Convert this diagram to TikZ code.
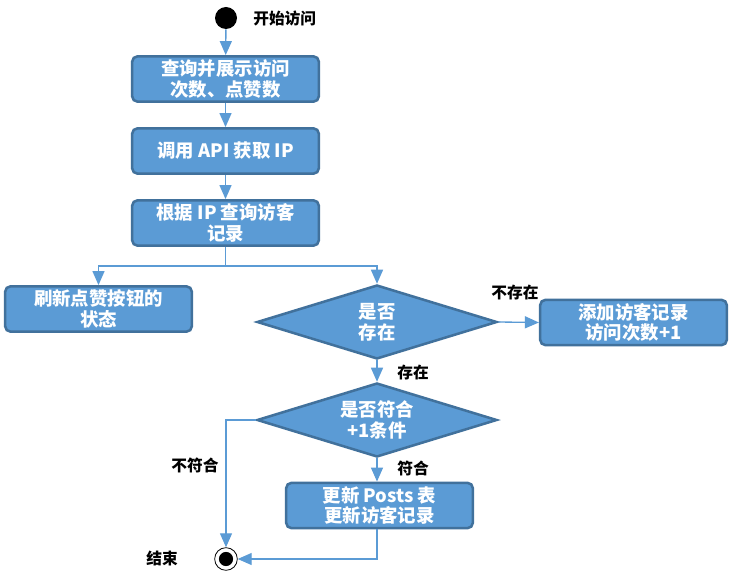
\documentclass[tikz,border=0pt]{standalone}
\usepackage{fontspec}
\setmainfont{Noto Sans CJK SC}
\usetikzlibrary{shapes.geometric,arrows.meta}
\definecolor{boxfill}{HTML}{5B9BD5}
\definecolor{boxline}{HTML}{41719C}
\definecolor{conn}{HTML}{5B9BD5}
\begin{document}
\begin{tikzpicture}[x=0.75pt,y=-0.75pt,
  stepbox/.style={draw=boxline,fill=boxfill,line width=1.9pt,rounded corners=4pt,
    minimum width=140pt,minimum height=34pt,inner sep=0pt,align=center,
    text=white,font=\bfseries\fontsize{13.8}{15.5}\selectfont},
  decide/.style={diamond,draw=boxline,fill=boxfill,line width=1.9pt,aspect=3.24,
    minimum width=180pt,minimum height=55.5pt,inner sep=0pt,align=center,
    text=white,font=\bfseries\fontsize{13.8}{15.5}\selectfont},
  lbl/.style={font=\bfseries\fontsize{11.8}{13}\selectfont,text=black,inner sep=0pt},
  conn/.style={draw=conn,line width=1pt,-{Triangle[width=9pt,length=10.5pt]}},
  plain/.style={draw=conn,line width=1pt}]
\useasboundingbox (0,0) rectangle (732,577);
\fill[white] (0,0) rectangle (732,577);
% start
\node[circle,fill=black,minimum size=16.5pt,inner sep=0pt] (start) at (226,18) {};
\node[lbl,anchor=west] (startl) at (253,18) {开始访问};
\node[stepbox] (b1) at (225.5,79) {查询并展示访问\\次数、点赞数};
\node[stepbox] (b2) at (225.5,151) {调用 API 获取 IP};
\node[stepbox] (b3) at (225.5,223) {根据 IP 查询访客\\记录};
\node[stepbox] (b4) at (98.5,309) {刷新点赞按钮的\\状态};
\node[decide] (d1) at (377,322) {是否\\存在};
\node[stepbox] (b5) at (633.5,322.5) {添加访客记录\\访问次数+1};
\node[decide] (d2) at (377,420) {是否符合\\+1条件};
\node[stepbox] (b6) at (379.5,505.5) {更新 Posts 表\\更新访客记录};
% end
\node[circle,draw=black,line width=0.6pt,fill=white,minimum size=17pt,inner sep=0pt] (endc) at (226,559) {};
\fill[black] (endc.center) circle (5.3pt);
\node[lbl,anchor=east] (endl) at (178,558) {结束};
% labels
\node[lbl] (l1) at (515,293) {不存在};
\node[lbl,anchor=west] (l2) at (397,373) {存在};
\node[lbl,anchor=west] (l3) at (397,468) {符合};
\node[lbl] (l4) at (195,465) {不符合};
% connectors
\draw[conn] (start) -- (b1);
\draw[conn] (b1) -- (b2);
\draw[conn] (b2) -- (b3);
\coordinate (split) at (b3.south |- 0,266);
\draw[plain] (b3.south) -- (split);
\draw[conn] (split) -| (b4.north);
\draw[conn] (split) -| (d1.north);
\draw[conn] (d1.east) -- (b5.west);
\draw[conn] (d1.south) -- (d2.north);
\draw[conn] (d2.south) -- (b6.north -| d2.south);
\draw[conn] (d2.west) -| (endc.north);
\draw[conn] (b6.south -| d2.south) |- (endc.east);
\end{tikzpicture}
\end{document}
